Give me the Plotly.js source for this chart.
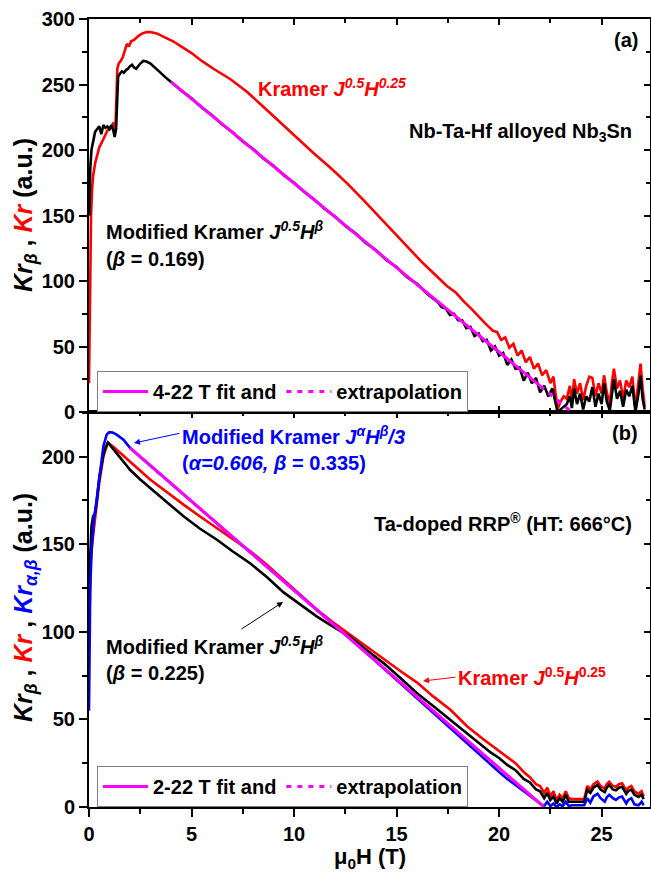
<!DOCTYPE html>
<html>
<head>
<meta charset="utf-8">
<script src="https://cdn.plot.ly/plotly-3.0.1.min.js"></script>
<style>html,body{margin:0;padding:0;background:#fff;}#chart{width:651px;height:875px;}</style>
</head>
<body>
<div id="chart"></div>
<script>
// ---------- Panel (a): Nb-Ta-Hf alloyed Nb3Sn ----------
const topRedX = [0,0.02,0.05,0.1,0.15,0.2,0.3,0.4,0.5,0.6,0.7,0.8,0.9,1.0,1.1,1.2,1.28,1.34,1.38,1.45,1.55,1.65,1.75,1.85,1.95,2.05,2.2,2.4,2.6,2.8,3.0,3.3,3.7,4.1,4.45,5.0,5.5,6.07,6.9,7.7,8.5,9.33,10.1,10.96,11.8,12.59,13.4,14.2,14.6,15.0,15.4,15.84,16.2,16.6,17.0,17.47,17.9,18.3,18.7,19.1,19.3,19.5,19.7,19.9,20.1,20.3,20.5,20.7,20.9,21.1,21.3,21.5,21.7,21.9,22.1,22.3,22.5,22.65,22.8,22.85,23.0,23.15,23.3,23.45,23.55,23.66,23.8,23.95,24.1,24.25,24.4,24.55,24.7,24.85,25.0,25.12,25.25,25.4,25.5,25.6,25.75,25.9,26.05,26.2,26.35,26.5,26.65,26.8,26.9,27.0,27.1];
const topRedY = [22,50,100,150,170,180,190,197,202,205,208,212,215,216,218,221,214,240,262,266,268,271,276,281,279,283,284,287,289,290,290,289,286,283,279.5,274,268,262,254,244.5,233,221,209.5,197.5,186,174.5,161.5,148,141.5,135,128,121,115,109,103,96,91,84,78,71,68,65,62,61,55,57,49,52,43,47,38,42,33,37,28,32,22,27,6,2,8,12,10,20,8,25,14,22,9,20,27,26,12,22,14,28,15,6,22,33,18,24,10,24,19,27,3,22,37,18,4];

const topBlackX = [0.02,0.06,0.12,0.2,0.3,0.4,0.5,0.6,0.7,0.8,0.9,1.0,1.1,1.2,1.25,1.32,1.38,1.42,1.5,1.6,1.7,1.8,1.9,2.0,2.1,2.2,2.3,2.4,2.5,2.65,2.8,3.0,3.2,3.4,3.6,3.8,4.0,4.5,5.0,5.5,6.0,6.5,7.0,7.5,8.0,8.5,9.0,9.5,10.0,10.5,11.0,11.5,12.0,12.5,13.0,13.5,14.0,14.5,15.0,15.5,16.0,16.5,17.0,17.2,17.4,17.6,17.8,18.0,18.2,18.4,18.6,18.8,19.0,19.2,19.4,19.6,19.8,20.0,20.2,20.4,20.6,20.8,21.0,21.2,21.4,21.6,21.8,22.0,22.2,22.4,22.6,22.75,22.85,23.0,23.15,23.3,23.45,23.55,23.66,23.8,23.95,24.1,24.25,24.4,24.55,24.7,24.85,25.0,25.12,25.25,25.4,25.5,25.6,25.75,25.9,26.05,26.2,26.35,26.5,26.65,26.8,26.9,27.0,27.1];
const topBlackY = [150,185,200,207,214,216,218,212,219,217,218,216,219,214,210,216,250,256,258,260,259,261,262,264,265,263,262,264,266,268,267.5,266,263,260,257,254.5,252,245.3,239.5,232.4,226.5,219.4,213.6,206.5,200.8,193.6,187.9,180.7,175,168,162.1,155,149.3,142,136.4,129,123.5,116,110.6,103,97.8,90,84,80,79,74,75,70,70,64,65,58,60,54,55,47,50,43,45,36,40,33,34,24,30,22,26,15,20,12,18,8,0,2,4,6,12,3,18,6,14,2,12,8,19,4,14,6,22,8,1,15,25,10,16,4,17,12,20,0,14,28,10,2];

const topFitX = [4, 22];
const topFitY = [252, 20.0];
const topExtX = [22, 23.55];
const topExtY = [20.0, 0];

// ---------- Panel (b): Ta-doped RRP (HT 666 C) ----------
const botBlackX = [0,0.05,0.12,0.2,0.28,0.35,0.5,0.6,0.7,0.8,0.92,1.0,1.2,1.5,2.0,2.5,2.98,3.8,4.61,5.4,6.24,7.0,7.87,8.7,9.49,10.3,11.12,11.9,12.75,13.55,14.38,15.2,16.0,16.8,17.64,18.4,19.2,19.6,20.0,20.4,20.8,21.2,21.5,21.8,22.0,22.2,22.35,22.5,22.65,22.8,22.95,23.1,23.25,23.4,23.55,24.0,24.15,24.3,24.45,24.6,24.8,24.95,25.15,25.25,25.37,25.55,25.7,25.85,26.0,26.2,26.3,26.45,26.6,26.8,26.95,27.05];
const botBlackY = [90,140,160,166,167,172,188,195,201,205,208,207,204,199.5,192.5,187,182,174,166,159,152.6,146,139,131,122.5,115.5,108.7,103,97,89.5,82,73.5,65,57.5,49.7,42.5,35,31,28,24,21,16,14,10,9,5,8,4,6,2,5,3,7,3,3,3,3,9.7,8,11,12.6,10,8.5,11,12.6,10,9.5,11,11.5,7.5,9,10,7,5.7,7,4.5];

const botRedX = [0,0.03,0.08,0.15,0.3,0.5,0.7,0.92,1.2,1.5,2.0,2.5,2.98,3.8,4.61,5.4,6.24,7.0,7.87,8.7,9.49,10.3,11.12,11.9,12.75,13.55,14.38,15.2,16.0,16.8,17.64,18.45,19.2,19.6,20.0,20.4,20.8,21.2,21.5,21.8,22.0,22.2,22.35,22.5,22.65,22.8,22.95,23.1,23.25,23.4,23.55,24.0,24.15,24.3,24.45,24.6,24.8,24.95,25.15,25.25,25.37,25.55,25.7,25.85,26.0,26.2,26.3,26.45,26.6,26.8,26.95,27.05];
const botRedY = [95,120,140,150,165,185,200,208,205.5,202.5,197.5,192,187,179.5,172.6,166,159.2,153,146,138,129.7,121,112.6,105.5,98.3,91,84,77.5,71,63,55.4,46,39,35.5,32,28.5,25,20,17,13,12,8,11,6,9,4,7,5,9,5,4.5,4.5,4.5,12,10,13,14.5,12,10.5,13,14.5,12,11.5,13,13.5,9.5,11,12,9,7.5,9,6];

const botBlueX = [0,0.02,0.06,0.13,0.25,0.37,0.54,0.7,0.86,0.99,1.15,1.35,1.68,2.0,3,4,5,6,7,8,9,10,11,12,13,14,15,16,17,17.6,18.2,18.8,19.4,20.0,20.4,20.8,21.2,21.5,21.8,22.0,22.2,22.35,22.5,22.65,22.8,22.95,23.1,23.25,23.4,23.55,24.0,24.15,24.3,24.45,24.6,24.8,24.95,25.15,25.25,25.37,25.55,25.7,25.85,26.0,26.2,26.3,26.45,26.6,26.8,26.95,27.05];
const botBlueY = [55,100,125,147,165,175,191,205.8,212.6,214,213.8,212.6,209.7,205,194.8,184.7,174.5,164.4,154.2,144,133.9,123.7,113.6,103.4,93.3,83.1,72.5,62,51.5,45,38.5,32.5,26,20,16,12.5,8.5,6,3.5,2,0.5,3,0.5,2,0,1.5,0.5,3,0.5,1,1,1,5,2.5,6,7.5,5,3,5.5,7,5,4,5.5,6,2,4,5,1.5,1,3,1];

const botFitX = [2, 22];
const botFitY = [205, 2.0];
const botExtX = [22, 22.2];
const botExtY = [2.0, 0];

// ---------- helpers for placement (pixel -> paper) ----------
const L = 89, R = 650, T = 19, B = 807;
const PX = p => (p - L) / (R - L);
const PY = p => (B - p) / (B - T);
const split = PY(412);

const FONT = 'Liberation Sans, Arial, sans-serif';
const MAG = '#ff00ff';
const LW = 2.6;

function ln(x, y, color, xa, ya, extra) {
  return Object.assign({x: x, y: y, mode: 'lines', type: 'scatter', xaxis: xa, yaxis: ya,
    line: {color: color, width: LW}, showlegend: false, hoverinfo: 'skip'}, extra || {});
}

const traces = [
  ln(topRedX, topRedY, '#ff0000', 'x2', 'y2'),
  ln(topBlackX, topBlackY, '#000000', 'x2', 'y2'),
  ln(topFitX, topFitY, MAG, 'x2', 'y2', {name: '4-22 T fit and', showlegend: true, legend: 'legend', line: {color: MAG, width: 3}}),
  ln(topExtX, topExtY, MAG, 'x2', 'y2', {name: 'extrapolation', showlegend: true, legend: 'legend', line: {color: MAG, width: 3, dash: '5px,6px'}}),
  ln(botRedX, botRedY, '#ff0000', 'x', 'y'),
  ln(botBlackX, botBlackY, '#000000', 'x', 'y'),
  ln(botBlueX, botBlueY, '#0000ff', 'x', 'y'),
  ln(botFitX, botFitY, MAG, 'x', 'y', {name: '2-22 T fit and', showlegend: true, legend: 'legend2', line: {color: MAG, width: 3}}),
  ln(botExtX, botExtY, MAG, 'x', 'y', {name: 'extrapolation', showlegend: true, legend: 'legend2', line: {color: MAG, width: 3, dash: '5px,6px'}})
];

const XR = [0, 27.36];
const tickFont = {family: FONT, size: 20, color: '#000', weight: 'bold'};
const baseAx = {showgrid: false, zeroline: false, showline: true, linecolor: '#000', linewidth: 2,
  tickcolor: '#000', tickwidth: 2, ticklen: 8, tickfont: tickFont};
function ax(o) { return Object.assign({}, baseAx, o); }

const annFont = (c, s) => ({family: FONT, size: s || 20, color: c || '#000', weight: 'bold'});
function txt(text, px, py, opts) {
  return Object.assign({text: text, xref: 'paper', yref: 'paper', x: PX(px), y: PY(py),
    xanchor: 'left', yanchor: 'middle', showarrow: false, font: annFont()}, opts || {});
}
function arrow(hx, hy, tx, ty, color) {
  return {text: '', xref: 'paper', yref: 'paper', x: PX(hx), y: PY(hy), ax: tx - hx, ay: ty - hy,
    showarrow: true, arrowhead: 2, arrowsize: 1.2, arrowwidth: 1, arrowcolor: color, standoff: 0};
}

const annotations = [
  txt('(a)', 640, 40, {xanchor: 'right'}),
  txt('Kramer <i>J</i><sup><i>0.5</i></sup><i>H</i><sup><i>0.25</i></sup>', 256, 88, {font: annFont('#ff0000')}),
  txt('Nb-Ta-Hf alloyed Nb<sub>3</sub>Sn', 634, 132, {xanchor: 'right'}),
  txt('Modified Kramer <i>J</i><sup><i>0.5</i></sup><i>H</i><sup><i>β</i></sup>', 104, 230),
  txt('(<i>β</i> = 0.169)', 104, 259),
  txt('(b)', 640, 433, {xanchor: 'right'}),
  txt('Modified Kramer <i>J</i><sup><i>α</i></sup><i>H</i><sup><i>β</i></sup><i>/3</i>', 180, 435, {font: annFont('#0000ff')}),
  txt('(<i>α=0.606,</i> <i>β</i> = 0.335)', 180, 463, {font: annFont('#0000ff')}),
  txt('Ta-doped RRP<sup>®</sup> (HT: 666°C)', 634, 522, {xanchor: 'right'}),
  txt('Modified Kramer <i>J</i><sup><i>0.5</i></sup><i>H</i><sup><i>β</i></sup>', 104, 645),
  txt('(<i>β</i> = 0.225)', 104, 673),
  txt('Kramer <i>J</i><sup>0.5</sup><i>H</i><sup>0.25</sup>', 456, 676, {font: annFont('#ff0000')}),
  arrow(134, 443, 181, 433, '#0000ff'),
  arrow(283, 602, 240, 630, '#000000'),
  arrow(423, 681, 457, 677, '#ff0000'),
  txt('<i>Kr</i><sub><i>β</i></sub> , <span style="color:#ff0000"><i>Kr</i></span> (a.u.)', 25, 215,
      {xanchor: 'center', textangle: -90, font: annFont('#000', 25)}),
  txt('<i>Kr</i><sub><i>β</i></sub> , <span style="color:#ff0000"><i>Kr</i></span> , <span style="color:#0000ff"><i>Kr</i><sub><i>α,β</i></sub></span> (a.u.)', 25, 608,
      {xanchor: 'center', textangle: -90, font: annFont('#000', 25)}),
  txt('μ<sub>0</sub>H (T)', 370, 858, {xanchor: 'center', font: annFont('#000', 22)})
];

const legBase = {orientation: 'h', xanchor: 'left', yanchor: 'top', bgcolor: '#ffffff',
  bordercolor: '#808080', borderwidth: 1, font: annFont('#000', 20), itemwidth: 45,
  itemclick: false, itemdoubleclick: false};

const layout = {
  width: 651, height: 875,
  margin: {l: L, r: 651 - R, t: T, b: 875 - B, pad: 0},
  paper_bgcolor: '#ffffff', plot_bgcolor: '#ffffff',
  font: {family: FONT, color: '#000'},
  xaxis: ax({domain: [0, 1], anchor: 'y', range: XR, dtick: 5, tick0: 0, ticks: 'outside',
    minor: {dtick: 2.5, tick0: 0, ticks: 'outside', ticklen: 5, tickwidth: 2, tickcolor: '#000'}}),
  xaxis2: ax({domain: [0, 1], anchor: 'y2', range: XR, dtick: 5, tick0: 0, ticks: 'inside', ticklen: 6, showticklabels: false,
    minor: {dtick: 2.5, tick0: 0, ticks: 'inside', ticklen: 4, tickwidth: 2, tickcolor: '#000'}}),
  xaxis3: ax({overlaying: 'x', side: 'top', anchor: 'y', range: XR, dtick: 5, tick0: 0, ticks: 'inside', ticklen: 6, showticklabels: false,
    minor: {dtick: 2.5, tick0: 0, ticks: 'inside', ticklen: 4, tickwidth: 2, tickcolor: '#000'}}),
  xaxis4: ax({overlaying: 'x2', side: 'top', anchor: 'y2', range: XR, dtick: 5, tick0: 0, ticks: 'inside', ticklen: 6, showticklabels: false,
    minor: {dtick: 2.5, tick0: 0, ticks: 'inside', ticklen: 4, tickwidth: 2, tickcolor: '#000'}}),
  yaxis: ax({domain: [0, split], anchor: 'x', range: [0, 225.5], dtick: 50, tick0: 0, ticks: 'outside',
    minor: {dtick: 25, tick0: 0, ticks: 'outside', ticklen: 5, tickwidth: 2, tickcolor: '#000'}}),
  yaxis2: ax({domain: [split, 1], anchor: 'x2', range: [0, 300], dtick: 50, tick0: 0, ticks: 'outside',
    minor: {dtick: 25, tick0: 0, ticks: 'outside', ticklen: 5, tickwidth: 2, tickcolor: '#000'}}),
  yaxis3: ax({overlaying: 'y', side: 'right', anchor: 'x', range: [0, 225.5], dtick: 50, tick0: 0, ticks: 'inside', ticklen: 6, showticklabels: false,
    minor: {dtick: 25, tick0: 0, ticks: 'inside', ticklen: 4, tickwidth: 2, tickcolor: '#000'}}),
  yaxis4: ax({overlaying: 'y2', side: 'right', anchor: 'x2', range: [0, 300], dtick: 50, tick0: 0, ticks: 'inside', ticklen: 6, showticklabels: false,
    minor: {dtick: 25, tick0: 0, ticks: 'inside', ticklen: 4, tickwidth: 2, tickcolor: '#000'}}),
  legend: Object.assign({}, legBase, {x: PX(97), y: PY(371)}),
  legend2: Object.assign({}, legBase, {x: PX(97), y: PY(766)}),
  annotations: annotations,
  showlegend: true
};

// invisible anchors so the mirrored tick axes are drawn
traces.push({x: [0], y: [0], xaxis: 'x3', yaxis: 'y3', mode: 'markers', marker: {opacity: 0}, showlegend: false, hoverinfo: 'skip'});
traces.push({x: [0], y: [0], xaxis: 'x4', yaxis: 'y4', mode: 'markers', marker: {opacity: 0}, showlegend: false, hoverinfo: 'skip'});

Plotly.newPlot('chart', traces, layout, {staticPlot: true, displayModeBar: false});
</script>
</body>
</html>
